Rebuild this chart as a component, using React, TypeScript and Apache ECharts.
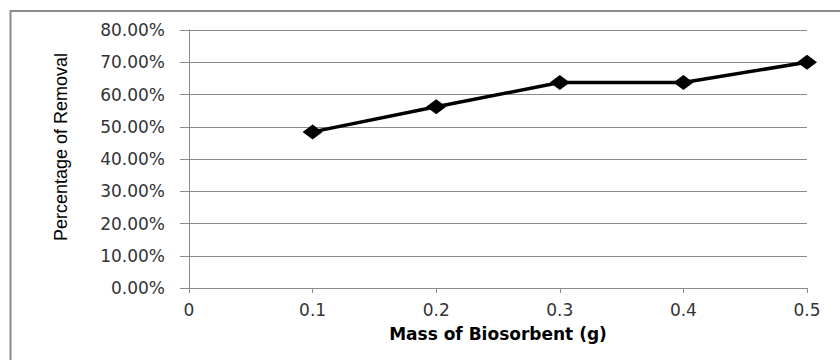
import React, { useEffect, useRef } from "react";
import * as echarts from "echarts";

const massValues = [0.1, 0.2, 0.3, 0.4, 0.5];
const removalValues = [0.484, 0.562, 0.637, 0.637, 0.7];
const xTitle = "Mass of Biosorbent (g)";
const yTitle = "Percentage of Removal";

export default function App() {
  const ref = useRef<HTMLDivElement>(null);

  useEffect(() => {
    if (!ref.current) return;
    const chart = echarts.init(ref.current, undefined, { renderer: "svg" });
    const gray = "#8a8a8a";
    chart.setOption({
      animation: false,
      backgroundColor: "#ffffff",
      grid: { left: 189, right: 33, top: 30, bottom: 72, containLabel: false },
      xAxis: {
        type: "value",
        min: 0,
        max: 0.5,
        interval: 0.1,
        name: xTitle,
        nameLocation: "middle",
        nameGap: 37,
        nameTextStyle: {
          fontFamily: "DejaVu Sans",
          fontWeight: "bold",
          fontSize: 17,
          color: "#000",
        },
        axisLine: { show: true, lineStyle: { color: gray, width: 1 } },
        axisTick: { show: true, length: 5, lineStyle: { color: gray } },
        axisLabel: {
          margin: 13,
          fontFamily: "DejaVu Sans",
          fontSize: 17,
          color: "#333",
          formatter: (v: number) => String(Number(v.toFixed(1))),
        },
        splitLine: { show: false },
      },
      yAxis: {
        type: "value",
        min: 0,
        max: 0.8,
        interval: 0.1,
        axisLine: { show: true, lineStyle: { color: gray, width: 1 } },
        axisTick: { show: true, length: 9, lineStyle: { color: gray } },
        axisLabel: {
          margin: 24,
          fontFamily: "DejaVu Sans",
          fontSize: 17,
          color: "#333",
          formatter: (v: number) => (v * 100).toFixed(2) + "%",
        },
        splitLine: { show: true, lineStyle: { color: gray, width: 1 } },
      },
      graphic: [
        {
          type: "rect",
          shape: { x: 10.5, y: 11, width: 840, height: 360 },
          style: { fill: "none", stroke: gray, lineWidth: 2 },
          silent: true,
        },
        {
          type: "text",
          x: 61,
          y: 147,
          rotation: Math.PI / 2,
          style: {
            text: yTitle,
            fontFamily: "Liberation Sans",
            fontSize: 18,
            fill: "#000",
            align: "center",
            verticalAlign: "middle",
          },
        },
      ],
      series: [
        {
          type: "line",
          data: massValues.map((m, i) => [m, removalValues[i]]),
          symbol: "diamond",
          symbolSize: [20, 15],
          itemStyle: { color: "#000" },
          lineStyle: { color: "#000", width: 3.5 },
        },
      ],
    });
    return () => chart.dispose();
  }, []);

  return (
    <div
      ref={ref}
      style={{ position: "fixed", left: 0, top: 0, width: 840, height: 360 }}
    />
  );
}
